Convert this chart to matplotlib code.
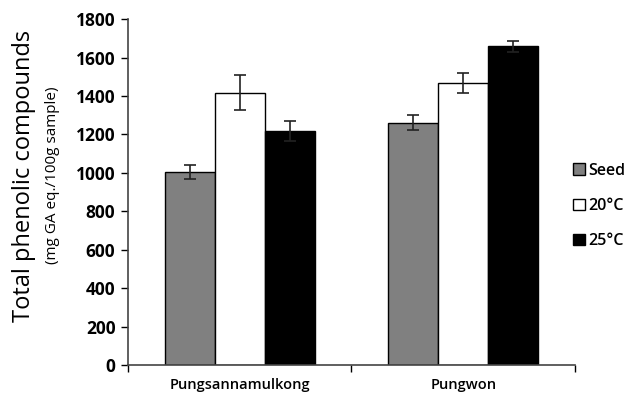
import matplotlib.pyplot as plt
import numpy as np

plt.rcParams['font.family'] = ['Open Sans', 'DejaVu Sans']

# Total phenolic content per cultivar and sprouting condition
cultivars = ["Pungsannamulkong", "Pungwon"]
series = ["Seed", "20\u00b0C", "25\u00b0C"]
seed = [1005, 1260]
c20 = [1418, 1470]
c25 = [1218, 1658]
seed_err = [37, 39]
c20_err = [91, 52]
c25_err = [50, 30]
yticks = [0, 200, 400, 600, 800, 1000, 1200, 1400, 1600, 1800]

values = [seed, c20, c25]
errors = [seed_err, c20_err, c25_err]
colors = ["#808080", "white", "black"]

fig = plt.figure(figsize=(6.27, 3.99), dpi=100)
ax = fig.add_axes([0.204, 0.085, 0.713, 0.867])

x = np.arange(len(cultivars))
width = 0.224
for i, (vals, errs, col) in enumerate(zip(values, errors, colors)):
    ax.bar(x + (i - 1) * width, vals, width, color=col, edgecolor="black",
           linewidth=1.0, label=series[i], zorder=2)
    ax.errorbar(x + (i - 1) * width, vals, yerr=errs, fmt="none",
                ecolor="#222222", elinewidth=1.2, capsize=4, capthick=1.2, zorder=3)

ax.set_xlim(-0.5, 1.5)
ax.set_ylim(0, 1800)
ax.set_yticks(yticks)
ax.set_yticklabels([str(t) for t in yticks], fontsize=12.5, fontweight="bold")

# group separators as x ticks, labels on category centres
ax.set_xticks([-0.5, 0.5, 1.5])
ax.set_xticklabels([])
ax.set_xticks(x, minor=True)
ax.set_xticklabels(cultivars, minor=True, fontsize=10.5, fontweight="semibold")
ax.tick_params(axis="x", which="minor", length=0, pad=9)
ax.tick_params(axis="x", which="major", length=5, width=1, direction="out")
ax.tick_params(axis="y", length=5, width=1, direction="out", pad=4)

for s in ["top", "right"]:
    ax.spines[s].set_visible(False)
for s in ["left", "bottom"]:
    ax.spines[s].set_color("#444444")
    ax.spines[s].set_linewidth(1.2)

fig.text(0.038, 0.56, "Total phenolic compounds", rotation=90, fontsize=17,
         fontweight="medium", ha="center", va="center")
fig.text(0.083, 0.56, "(mg GA eq./100g sample)", rotation=90, fontsize=11,
         ha="center", va="center")

leg = ax.legend(loc="center left", bbox_to_anchor=(0.995, 0.46), frameon=False,
                borderaxespad=0, borderpad=0,
                handlelength=0.75, handleheight=0.75, handletextpad=0.2,
                labelspacing=1.2, prop={"size": 11.5, "weight": "semibold"})

fig.savefig("out.png", dpi=100)
